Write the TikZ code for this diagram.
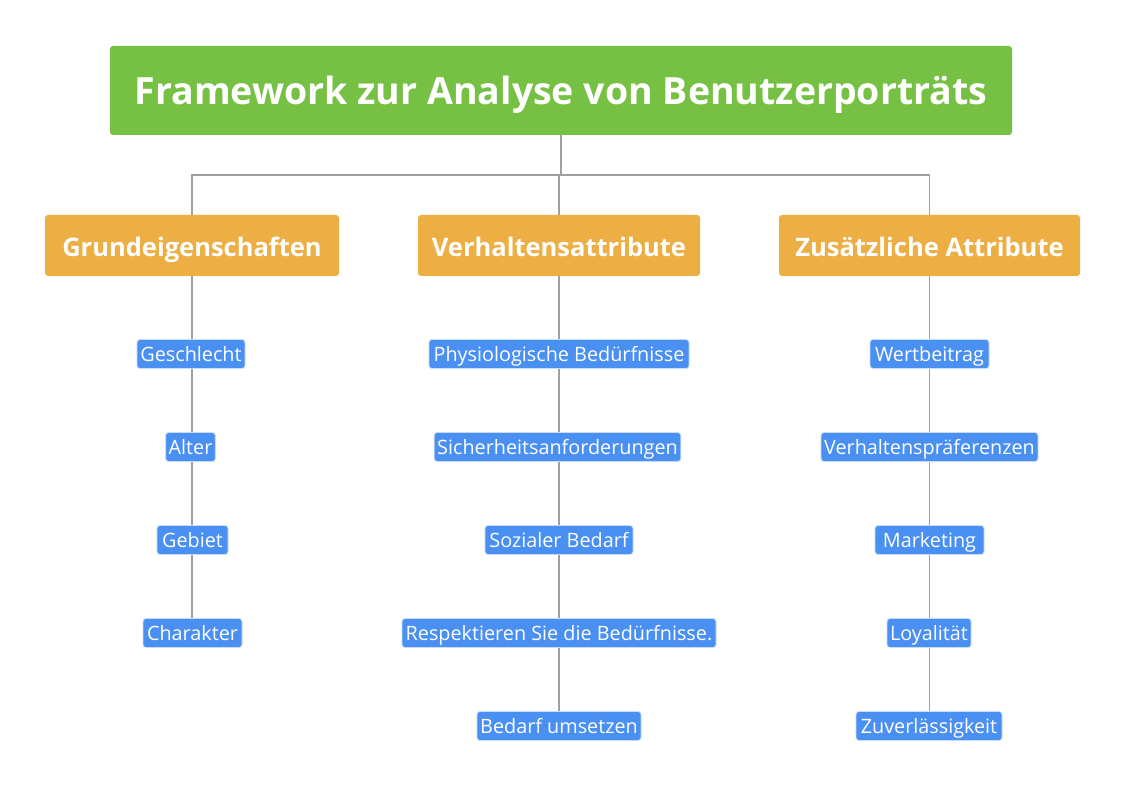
\documentclass[tikz,border=0pt]{standalone}
\usepackage{fontspec}
\setmainfont{Open Sans}
\definecolor{rootgreen}{HTML}{76C043}
\definecolor{catorange}{HTML}{EDAE44}
\definecolor{leafblue}{HTML}{4A8FF2}
\definecolor{leafborder}{HTML}{C9DCF7}
\definecolor{linegray}{HTML}{A0A0A0}
\tikzset{
  rootbox/.style={fill=rootgreen, rounded corners=3pt, text=white, font=\fontsize{37.5}{40}\selectfont\bfseries, minimum width=902pt, minimum height=89pt, inner sep=0pt, text height=32pt, text depth=3pt},
  catbox/.style={fill=catorange, rounded corners=3pt, text=white, font=\fontsize{25.5}{28}\selectfont\bfseries, minimum height=61pt, inner sep=0pt, text height=23pt, text depth=1pt},
  leafbox/.style={fill=leafblue, draw=leafborder, line width=0.8pt, rounded corners=3pt, text=white, font=\fontsize{19.8}{22}\selectfont, minimum height=29pt, inner xsep=3pt, inner ysep=0pt, text height=17pt, text depth=2pt},
  conn/.style={draw=linegray, line width=1.4pt}
}
\begin{document}
\begin{tikzpicture}[x=1pt,y=-1pt]
\useasboundingbox (0,0) rectangle (1127,802);
\fill[white] (0,0) rectangle (1127,802);
% root
\node[rootbox] (root) at (561,90.5) {Framework zur Analyse von Benutzerporträts};
% categories
\node[catbox, minimum width=294pt] (c1) at (192,245.5) {Grundeigenschaften};
\node[catbox, minimum width=282pt] (c2) at (559,245.5) {Verhaltensattribute};
\node[catbox, minimum width=301pt] (c3) at (929.5,245.5) {Zusätzliche Attribute};
\coordinate (j) at (561,175);
% connectors (drawn first, under the leaves)
\draw[conn] (root.south) -- (j);
\draw[conn] (c1.north) |- (j);
\draw[conn] (c3.north) |- (j);
\draw[conn] (c2.north) -- (c2.north |- j);
\draw[conn] (c1.south) -- (c1.south |- 0,633);
\draw[conn] (c2.south) -- (c2.south |- 0,726);
\draw[conn] (c3.south) -- (c3.south |- 0,726);
% leaves left
\node[leafbox, minimum width=108pt] (a1) at (191,354) {Geschlecht};
\node[leafbox, minimum width=49pt] (a2) at (190.5,447) {Alter};
\node[leafbox, minimum width=71pt] (a3) at (192.5,540) {Gebiet};
\node[leafbox, minimum width=99pt] (a4) at (192.5,633) {Charakter};
% leaves middle
\node[leafbox, minimum width=260pt] (b1) at (559,354) {Physiologische Bedürfnisse};
\node[leafbox, minimum width=245pt] (b2) at (557.5,447) {Sicherheitsanforderungen};
\node[leafbox, minimum width=148pt] (b3) at (559,540) {Sozialer Bedarf};
\node[leafbox, minimum width=314pt] (b4) at (559,633) {Respektieren Sie die Bedürfnisse.};
\node[leafbox, minimum width=164pt] (b5) at (559,726) {Bedarf umsetzen};
% leaves right
\node[leafbox, minimum width=119pt] (d1) at (929.5,354) {Wertbeitrag};
\node[leafbox, minimum width=217pt] (d2) at (929.5,447) {Verhaltenspräferenzen};
\node[leafbox, minimum width=109pt] (d3) at (929.5,540) {Marketing};
\node[leafbox, minimum width=84pt] (d4) at (929,633) {Loyalität};
\node[leafbox, minimum width=146pt] (d5) at (929,726) {Zuverlässigkeit};
\end{tikzpicture}
\end{document}
